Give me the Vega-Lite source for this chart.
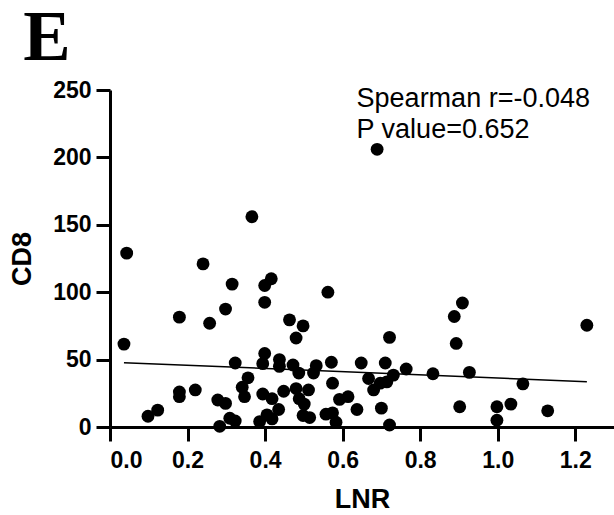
{
  "$schema": "https://vega.github.io/schema/vega-lite/v6.json",
  "autosize": {"type": "none"},
  "padding": {"left": 110, "top": 90, "right": 0, "bottom": 88},
  "width": 504,
  "height": 337,
  "background": "white",
  "config": {
    "view": {"stroke": null},
    "axis": {
      "domainColor": "black", "domainWidth": 3, "tickColor": "black", "tickWidth": 3, "tickSize": 14,
      "labelFont": "Liberation Sans", "labelFontWeight": "bold", "labelFontSize": 23, "labelColor": "black",
      "titleFont": "Liberation Sans", "titleFontWeight": "bold", "titleFontSize": 27, "titleColor": "black",
      "grid": false
    }
  },
  "datasets": {
    "pts": [
      {"LNR": 0.043, "CD8": 129}, {"LNR": 0.240, "CD8": 121}, {"LNR": 0.315, "CD8": 106}, {"LNR": 0.399, "CD8": 105},
      {"LNR": 0.416, "CD8": 110}, {"LNR": 0.562, "CD8": 100}, {"LNR": 0.399, "CD8": 92.5}, {"LNR": 0.298, "CD8": 87.5},
      {"LNR": 0.179, "CD8": 81.5}, {"LNR": 0.257, "CD8": 77}, {"LNR": 0.463, "CD8": 79.5}, {"LNR": 0.498, "CD8": 75},
      {"LNR": 0.480, "CD8": 66}, {"LNR": 0.036, "CD8": 61.5}, {"LNR": 0.323, "CD8": 47.5}, {"LNR": 0.399, "CD8": 54.5},
      {"LNR": 0.394, "CD8": 47}, {"LNR": 0.437, "CD8": 50}, {"LNR": 0.437, "CD8": 45}, {"LNR": 0.472, "CD8": 46},
      {"LNR": 0.487, "CD8": 40}, {"LNR": 0.532, "CD8": 45.5}, {"LNR": 0.525, "CD8": 40}, {"LNR": 0.571, "CD8": 48},
      {"LNR": 0.574, "CD8": 32.5}, {"LNR": 0.356, "CD8": 36.5}, {"LNR": 0.341, "CD8": 29.5}, {"LNR": 0.347, "CD8": 22.5},
      {"LNR": 0.179, "CD8": 26}, {"LNR": 0.179, "CD8": 22.5}, {"LNR": 0.220, "CD8": 27.5}, {"LNR": 0.278, "CD8": 20},
      {"LNR": 0.298, "CD8": 17.5}, {"LNR": 0.098, "CD8": 8}, {"LNR": 0.123, "CD8": 12.5}, {"LNR": 0.283, "CD8": 0.5},
      {"LNR": 0.309, "CD8": 6.5}, {"LNR": 0.323, "CD8": 4.5}, {"LNR": 0.394, "CD8": 24.5}, {"LNR": 0.418, "CD8": 21},
      {"LNR": 0.448, "CD8": 26.5}, {"LNR": 0.435, "CD8": 13}, {"LNR": 0.405, "CD8": 9}, {"LNR": 0.386, "CD8": 4},
      {"LNR": 0.418, "CD8": 6}, {"LNR": 0.480, "CD8": 28.5}, {"LNR": 0.512, "CD8": 27.5}, {"LNR": 0.488, "CD8": 21},
      {"LNR": 0.501, "CD8": 17}, {"LNR": 0.498, "CD8": 8.5}, {"LNR": 0.515, "CD8": 7}, {"LNR": 0.557, "CD8": 9.5},
      {"LNR": 0.574, "CD8": 10.5}, {"LNR": 0.583, "CD8": 3.5}, {"LNR": 0.592, "CD8": 20.5}, {"LNR": 0.614, "CD8": 22.5},
      {"LNR": 0.909, "CD8": 92}, {"LNR": 0.888, "CD8": 82}, {"LNR": 0.893, "CD8": 62}, {"LNR": 1.230, "CD8": 75.5},
      {"LNR": 0.721, "CD8": 66.5}, {"LNR": 0.648, "CD8": 47.5}, {"LNR": 0.710, "CD8": 47.5}, {"LNR": 0.667, "CD8": 36},
      {"LNR": 0.697, "CD8": 32.5}, {"LNR": 0.714, "CD8": 33.5}, {"LNR": 0.731, "CD8": 38.5}, {"LNR": 0.764, "CD8": 43},
      {"LNR": 0.680, "CD8": 27.5}, {"LNR": 0.833, "CD8": 39.5}, {"LNR": 0.927, "CD8": 40.5}, {"LNR": 1.065, "CD8": 32},
      {"LNR": 0.637, "CD8": 13}, {"LNR": 0.700, "CD8": 14}, {"LNR": 0.721, "CD8": 1.5}, {"LNR": 0.902, "CD8": 15},
      {"LNR": 0.998, "CD8": 15}, {"LNR": 0.998, "CD8": 5}, {"LNR": 1.034, "CD8": 17}, {"LNR": 1.129, "CD8": 12},
      {"LNR": 0.366, "CD8": 156}, {"LNR": 0.689, "CD8": 206}
    ],
    "fit": [
      {"LNR": 0.036, "CD8": 47.7}, {"LNR": 1.23, "CD8": 33.6}
    ]
  },
  "layer": [
    {
      "data": {"name": "fit"},
      "mark": {"type": "line", "color": "black", "strokeWidth": 1.5},
      "encoding": {
        "x": {"field": "LNR", "type": "quantitative", "scale": {"domain": [0, 1.3], "nice": false, "zero": false},
          "axis": {"values": [0, 0.2, 0.4, 0.6, 0.8, 1.0, 1.2], "format": ".1f", "title": "LNR", "labelPadding": 8, "titlePadding": 14}},
        "y": {"field": "CD8", "type": "quantitative", "scale": {"domain": [0, 250], "nice": false},
          "axis": {"values": [0, 50, 100, 150, 200, 250], "title": "CD8", "labelPadding": 5, "titlePadding": 16}}
      }
    },
    {
      "data": {"name": "pts"},
      "mark": {"type": "circle", "color": "black", "opacity": 1, "size": 165},
      "encoding": {
        "x": {"field": "LNR", "type": "quantitative"},
        "y": {"field": "CD8", "type": "quantitative"}
      }
    },
    {
      "data": {"values": [{"t": "Spearman r=-0.048"}]},
      "mark": {"type": "text", "align": "left", "baseline": "alphabetic", "font": "Liberation Sans", "fontSize": 27, "color": "black",
        "text": ["Spearman r=-0.048", "P value=0.652"], "lineHeight": 31},
      "encoding": {"x": {"datum": 0.636, "type": "quantitative"}, "y": {"datum": 237.5, "type": "quantitative"}}
    },
    {
      "data": {"values": [{"t": "E"}]},
      "mark": {"type": "text", "align": "left", "baseline": "alphabetic", "font": "Liberation Serif", "fontWeight": "bold", "fontSize": 71, "color": "black", "text": "E"},
      "encoding": {"x": {"datum": -0.224, "type": "quantitative"}, "y": {"datum": 272.3, "type": "quantitative"}}
    }
  ]
}
